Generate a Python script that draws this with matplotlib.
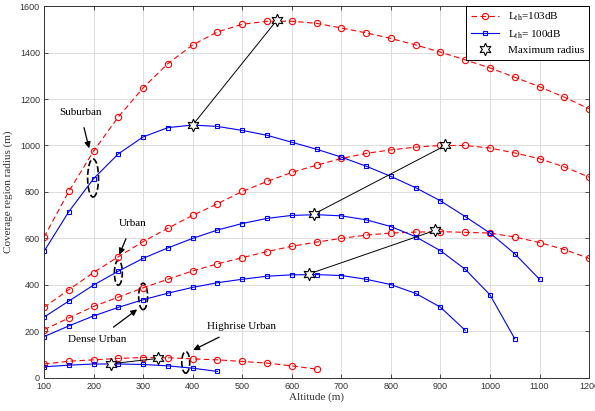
import numpy as np
import matplotlib
matplotlib.use('Agg')
import matplotlib.pyplot as plt
from matplotlib.patches import Ellipse

alt = np.arange(100, 1201, 50)

# Suburban
sub_103 = [605, 802, 976, 1123, 1248, 1353, 1433, 1489, 1522, 1535, 1535, 1526,
           1506, 1485, 1461, 1433, 1402, 1369, 1334, 1294, 1253, 1208, 1158]
sub_100 = [544, 715, 857, 964, 1037, 1077, 1088, 1082, 1065, 1044, 1014, 984,
           950, 911, 867, 818, 762, 694, 623, 534, 424]
# Urban
urb_103 = [303, 379, 453, 521, 586, 644, 699, 749, 802, 845, 884, 915,
           944, 966, 981, 993, 1000, 1000, 989, 968, 943, 908, 864]
urb_100 = [261, 330, 399, 459, 514, 559, 600, 636, 664, 686, 699, 702,
           697, 680, 651, 607, 547, 467, 357, 168]
# Dense urban
den_103 = [207, 257, 307, 347, 387, 424, 460, 490, 517, 543, 566, 584,
           600, 614, 623, 627, 629, 626, 623, 606, 582, 552, 514]
den_100 = [177, 223, 266, 303, 336, 364, 389, 409, 424, 437, 443, 444,
           440, 424, 401, 363, 304, 204]
# Highrise urban
hr_103 = [59, 71, 77, 83, 87, 86, 81, 77, 70, 63, 51, 37]
hr_100 = [47, 54, 59, 59, 57, 51, 41, 27]

# maximum radius points (blue, red) per environment
max_pts = {
    'Suburban': ((400, 1088), (570, 1540)),
    'Urban': ((645, 705), (910, 1000)),
    'Dense Urban': ((635, 447), (890, 635)),
    'Highrise Urban': ((235, 60), (330, 83)),
}

red_sets = [sub_103, urb_103, den_103, hr_103]
blue_sets = [sub_100, urb_100, den_100, hr_100]

serif = 'Liberation Serif'
plt.rcParams['font.family'] = 'Liberation Sans'
plt.rcParams['mathtext.fontset'] = 'custom'
plt.rcParams['mathtext.rm'] = serif
plt.rcParams['mathtext.it'] = serif + ':italic'

fig = plt.figure(figsize=(5.95, 4.11), dpi=100)
ax = fig.add_axes([0.074, 0.081, 0.916, 0.904])

star = (6, 1, 0)
for i, y in enumerate(red_sets):
    ax.plot(alt[:len(y)], y, 'o--', color='red', lw=0.8, ms=4.5,
            mfc='none', mew=0.8, dashes=(5, 3),
            label=r'L$_{\rm th}$=103dB' if i == 0 else None)
for i, y in enumerate(blue_sets):
    ax.plot(alt[:len(y)], y, 's-', color='blue', lw=0.8, ms=3.5,
            mfc='none', mew=0.8,
            label=r'L$_{\rm th}$= 100dB' if i == 0 else None)

for i, (name, (b, r)) in enumerate(max_pts.items()):
    ax.plot([b[0], r[0]], [b[1], r[1]], color='black', lw=0.7)
    ax.plot([b[0], r[0]], [b[1], r[1]], linestyle='none', marker=star,
            ms=9, mfc='white', mec='black', mew=0.8,
            label='Maximum radius' if i == 0 else None)

# dashed ellipses marking the environments
ellipses = [(199, 860, 22, 164), (250, 452, 16, 107),
            (300, 350, 18, 114), (386, 66, 16, 93)]
for cx, cy, w, h in ellipses:
    ax.add_patch(Ellipse((cx, cy), w, h, fill=False, ls='--', lw=1.2,
                         ec='black'))

ann = [('Suburban', (191, 988), (173, 1143)),
       ('Urban', (252, 530), (278, 663)),
       ('Dense Urban', (288, 294), (207, 165)),
       ('Highrise Urban', (401, 119), (498, 222))]
for txt, xy, xytext in ann:
    ax.annotate(txt, xy=xy, xytext=xytext, fontsize=8, family=serif,
                ha='center', va='center',
                arrowprops=dict(arrowstyle='-|>', color='black', lw=0.9,
                                shrinkA=6, shrinkB=0, mutation_scale=9))

ax.set_xlim(100, 1200)
ax.set_ylim(0, 1600)
ax.set_xticks(np.arange(100, 1201, 100))
ax.set_yticks(np.arange(0, 1601, 200))
ax.grid(True, color='#dddddd', lw=0.7)
ax.set_axisbelow(True)
ax.tick_params(direction='in', top=True, right=True, length=3, width=0.6,
               colors='#333333', labelsize=6.5, pad=3)
for s in ax.spines.values():
    s.set_color('#333333')
    s.set_linewidth(0.7)

ax.set_xlabel('Altitude (m)', family=serif, fontsize=8, color='#333333',
              labelpad=1)
ax.set_ylabel('Coverage region radius (m)', family=serif, fontsize=8,
              color='#333333', labelpad=5)

leg = ax.legend(loc='upper right', borderaxespad=0, fancybox=False,
                edgecolor='black', prop={'family': serif, 'size': 8},
                handlelength=2.6, framealpha=1, labelspacing=0.45)
leg.get_frame().set_linewidth(0.7)

fig.savefig('out.png', dpi=100)
